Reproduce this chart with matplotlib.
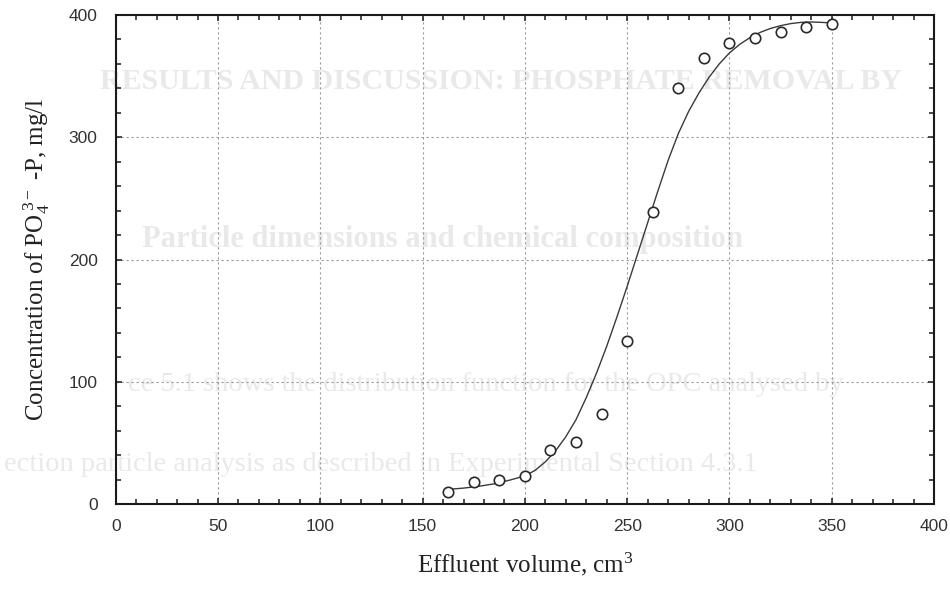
import matplotlib
matplotlib.use("Agg")
import matplotlib.pyplot as plt
from matplotlib.ticker import MultipleLocator

# ---- data ----
volume = [162.5, 175, 187.5, 200, 212.5, 225, 237.5, 250,
          262.5, 275, 287.5, 300, 312.5, 325, 337.5, 350]
conc = [10, 18, 19.5, 23, 44, 51, 73.5, 133,
        239, 340, 364.5, 377.5, 381, 386, 390.5, 392.5]

# fitted curve
fit_x = [162.5, 170, 177.5, 185, 192.5, 200, 205, 210, 215, 220, 225, 230,
         235, 240, 245, 250, 255, 260, 265, 270, 275, 280, 285, 290, 295,
         300, 305, 310, 315, 320, 325, 330, 335, 340, 345, 350]
fit_y = [12, 13, 14.5, 16.5, 19.5, 23, 27.5, 34.5, 43.5, 55, 69, 87,
         107, 129, 153, 178, 204, 230, 256, 281, 303, 321, 336, 349, 360,
         369, 376, 381.5, 385.8, 389, 391.3, 393, 394, 394.3, 394, 393.5]

x_ticks = [0, 50, 100, 150, 200, 250, 300, 350, 400]
y_ticks = [0, 100, 200, 300, 400]

x_label = "Effluent volume, cm$^{3}$"
y_label = r"Concentration of PO$_{4}^{\;\mathrm{3-}}$ -P, mg/l"

ghost_lines = [
    "RESULTS AND DISCUSSION: PHOSPHATE REMOVAL BY",
    "Particle dimensions and chemical composition",
    "ce 5.1 shows the distribution function for the OPC analysed by",
    "ection particle analysis as described in Experimental Section 4.3.1",
]

# ---- style ----
plt.rcParams["font.family"] = ["Liberation Sans", "DejaVu Sans"]
plt.rcParams["mathtext.fontset"] = "custom"
plt.rcParams["mathtext.rm"] = "Liberation Serif"
plt.rcParams["mathtext.it"] = "Liberation Serif:italic"
plt.rcParams["mathtext.bf"] = "Liberation Serif:bold"

fig = plt.figure(figsize=(9.5, 5.94), dpi=100)
ax = fig.add_axes([0.1218, 0.1515, 0.8614, 0.8232])
ax.set_facecolor("none")

# faint show-through text of the scanned page
ghost_color = "#e9e9e9"
fig.text(0.105, 0.862, ghost_lines[0], fontsize=21.5, fontweight="bold",
         family="Liberation Serif", color=ghost_color, zorder=-5, va="center")
fig.text(0.150, 0.596, ghost_lines[1], fontsize=22, fontweight="bold",
         family="Liberation Serif", color=ghost_color, zorder=-5, va="center")
fig.text(0.135, 0.352, ghost_lines[2], fontsize=20.5,
         family="Liberation Serif", color=ghost_color, zorder=-5, va="center")
fig.text(0.004, 0.218, ghost_lines[3], fontsize=20.5,
         family="Liberation Serif", color=ghost_color, zorder=-5, va="center")

ax.plot(fit_x, fit_y, color="#3a3a3a", lw=1.0, zorder=3)
ax.plot(volume, conc, linestyle="none", marker="o", markersize=7.5,
        markerfacecolor="white", markeredgecolor="#2a2a2a",
        markeredgewidth=1.2, zorder=4)

ax.set_xlim(0, 400)
ax.set_ylim(0, 400)
ax.set_xticks(x_ticks)
ax.set_yticks(y_ticks)
ax.xaxis.set_minor_locator(MultipleLocator(10))
ax.yaxis.set_minor_locator(MultipleLocator(20))

ax.grid(True, which="major", color="#9a9a9a", linestyle=(0, (2, 2.5)),
        linewidth=0.8, zorder=1)

ax.tick_params(which="both", direction="in", top=True, right=True,
               colors="#1a1a1a", width=1.1)
ax.tick_params(which="major", length=4, labelsize=12.5, labelcolor="#333333")
ax.tick_params(axis="y", which="major", pad=13)
ax.tick_params(axis="x", which="major", pad=11)
ax.tick_params(which="minor", length=3.5)

for s in ax.spines.values():
    s.set_linewidth(1.5)
    s.set_color("#1a1a1a")

ax.set_xlabel(x_label, family="Liberation Serif", fontsize=18,
              color="#222222", labelpad=12)
ax.set_ylabel(y_label, family="Liberation Serif", fontsize=18,
              color="#222222", labelpad=12)

fig.savefig("out.png", dpi=100)
